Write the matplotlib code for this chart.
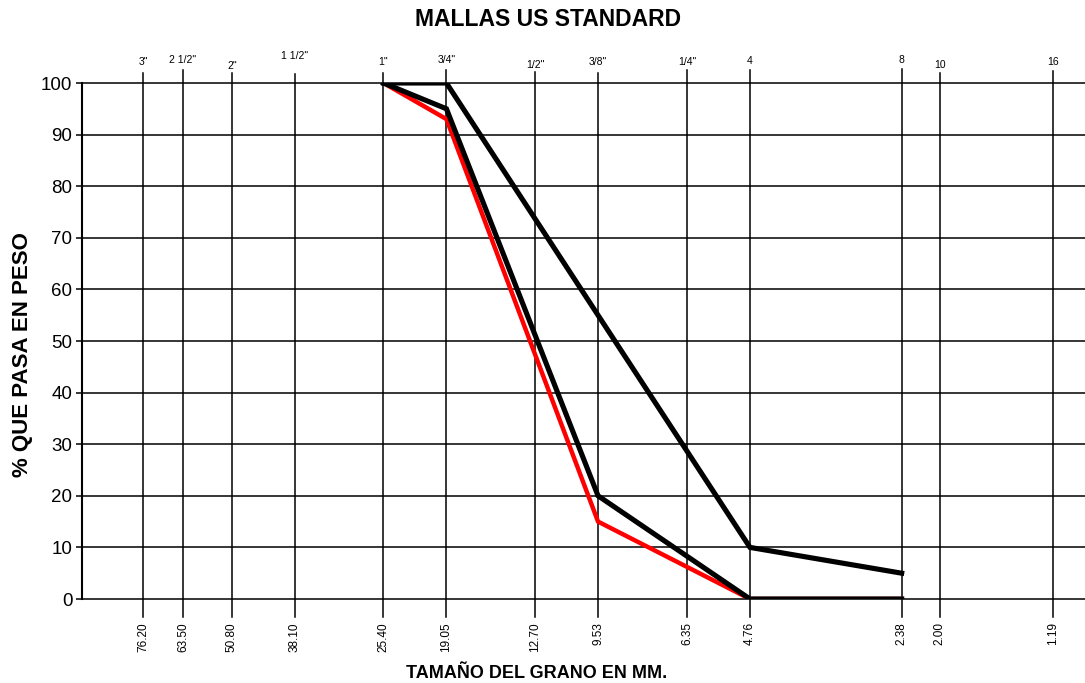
import matplotlib
matplotlib.use('Agg')
import matplotlib.pyplot as plt
import matplotlib.transforms as mtransforms

# sieve openings (mm) and names
sieve_mm = [76.20, 63.50, 50.80, 38.10, 25.40, 19.05, 12.70, 9.53, 6.35, 4.76, 2.38, 2.00, 1.19]
sieve_names = ['3"', '2 1/2"', '2"', '1 1/2"', '1"', '3/4"', '1/2"', '3/8"', '1/4"', '4', '8', '10', '16']
mm_labels = ['76.20', '63.50', '50.80', '38.10', '25.40', '19.05', '12.70', '9.53', '6.35', '4.76', '2.38', '2.00', '1.19']

# sample curve (red)
sample_mm = [25.40, 19.05, 9.53, 4.76, 2.38]
sample_pct = [100, 93, 15, 0, 0]

# gradation limits (black)
lower_mm = [25.40, 19.05, 9.53, 4.76, 2.38]
lower_pct = [100, 95, 20, 0, 0]
upper_mm = [25.40, 19.05, 9.53, 4.76, 2.38]
upper_pct = [100, 100, 55, 10, 5]

y_ticks = list(range(0, 101, 10))

plt.rcParams['font.family'] = ['Liberation Sans', 'DejaVu Sans']

fig = plt.figure(figsize=(10.85, 6.83), dpi=100)
ax = fig.add_axes([82 / 1085, 1 - 599 / 683, 1 - 82 / 1085, 516 / 683])

ax.set_xscale('log')
ax.set_xlim(100.7, 1.03)
ax.set_ylim(0, 100)

# grid: horizontal lines
for v in y_ticks:
    ax.axhline(v, color='black', lw=1.1, zorder=1, clip_on=False)

# vertical sieve lines, extended below and above the frame
trans = mtransforms.blended_transform_factory(ax.transData, ax.transAxes)
top_ext = [0.02, 0.025, 0.02, 0.018, 0.02, 0.025, 0.022, 0.02, 0.025, 0.025, 0.027, 0.02, 0.024]
label_dy = [0.040, 0.045, 0.032, 0.052, 0.040, 0.045, 0.035, 0.040, 0.040, 0.042, 0.045, 0.035, 0.040]
for x, name, mlab, ext, dy in zip(sieve_mm, sieve_names, mm_labels, top_ext, label_dy):
    ax.plot([x, x], [-0.035, 1 + ext], color='black', lw=1.1, transform=trans,
            clip_on=False, zorder=1)
    ax.text(x, 1 + dy, name, transform=trans, ha='center', va='center',
            fontsize=7.5)
    ax.text(x, -0.045, mlab, transform=trans, ha='center', va='top',
            rotation=90, fontsize=8.5)

ax.plot(sample_mm, sample_pct, color='red', lw=3.2, zorder=3, solid_joinstyle='miter')
ax.plot(lower_mm, lower_pct, color='black', lw=3.7, zorder=4, solid_joinstyle='miter')
ax.plot(upper_mm, upper_pct, color='black', lw=3.7, zorder=4, solid_joinstyle='miter')

ax.set_xticks([])
ax.set_xticks([], minor=True)
ax.set_yticks(y_ticks)
ax.tick_params(axis='y', length=4, width=1.1, labelsize=13.5, pad=3)
for side in ['top', 'right', 'bottom']:
    ax.spines[side].set_visible(False)
ax.spines['left'].set_linewidth(1.5)

ax.set_ylabel('% QUE PASA EN PESO', fontweight='bold', fontsize=16)
ax.yaxis.set_label_coords(-0.049, 0.473)
fig.text(537 / 1085, 1 - 673 / 683, 'TAMAÑO DEL GRANO EN MM.', ha='center', va='center',
         fontsize=13, fontweight='bold')
fig.text(548 / 1085, 1 - 20 / 683, 'MALLAS US STANDARD', ha='center', va='center',
         fontsize=16.5, fontweight='bold')

plt.savefig('out.png', dpi=100)
plt.close()
